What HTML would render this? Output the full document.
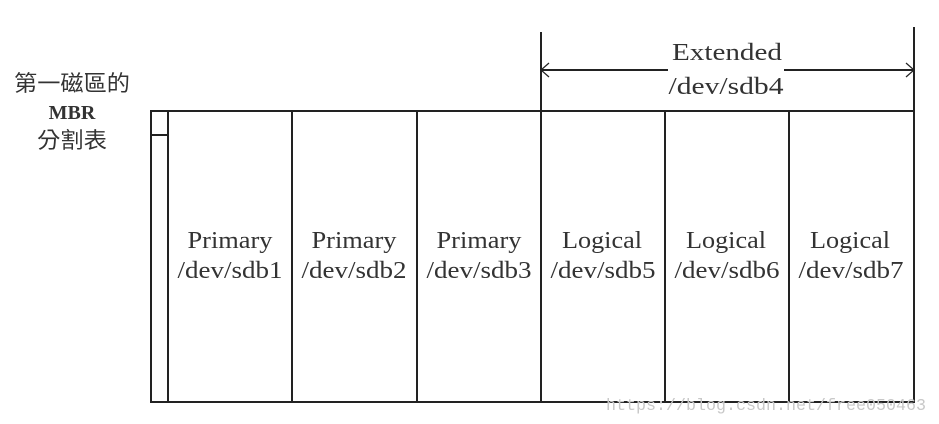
<!DOCTYPE html>
<html><head><style>
body{margin:0;width:939px;height:424px;background:#fff;overflow:hidden}
</style></head><body>
<svg width="939" height="424" xmlns="http://www.w3.org/2000/svg" style="position:absolute;left:0;top:0">
<g stroke="#222" stroke-width="2" fill="none">
<rect x="151" y="111" width="763" height="291"/>
<line x1="168" y1="111" x2="168" y2="402"/>
<line x1="151" y1="135" x2="168" y2="135"/>
<line x1="292" y1="111" x2="292" y2="402"/>
<line x1="417" y1="111" x2="417" y2="402"/>
<line x1="541" y1="32" x2="541" y2="402"/>
<line x1="665" y1="111" x2="665" y2="402"/>
<line x1="789" y1="111" x2="789" y2="402"/>
<line x1="914" y1="27" x2="914" y2="111"/>
<line x1="541" y1="70" x2="668" y2="70"/>
<line x1="784" y1="70" x2="914" y2="70"/>
<polyline points="549,63 541,70 549,77" stroke-width="1.2"/>
<polyline points="906,63 914,70 906,77" stroke-width="1.2"/>
</g>
<g font-family="Liberation Serif, serif" font-size="24" fill="#333" text-anchor="middle" lengthAdjust="spacingAndGlyphs">
<text x="727" y="60" textLength="110" lengthAdjust="spacingAndGlyphs">Extended</text>
<text x="726" y="94" textLength="115" lengthAdjust="spacingAndGlyphs">/dev/sdb4</text>
<text x="230" y="248" textLength="85" lengthAdjust="spacingAndGlyphs">Primary</text><text x="230" y="278" textLength="105" lengthAdjust="spacingAndGlyphs">/dev/sdb1</text>
<text x="354" y="248" textLength="85" lengthAdjust="spacingAndGlyphs">Primary</text><text x="354" y="278" textLength="105" lengthAdjust="spacingAndGlyphs">/dev/sdb2</text>
<text x="479" y="248" textLength="85" lengthAdjust="spacingAndGlyphs">Primary</text><text x="479" y="278" textLength="105" lengthAdjust="spacingAndGlyphs">/dev/sdb3</text>
<text x="602" y="248" textLength="80" lengthAdjust="spacingAndGlyphs">Logical</text><text x="603" y="278" textLength="105" lengthAdjust="spacingAndGlyphs">/dev/sdb5</text>
<text x="726" y="248" textLength="80" lengthAdjust="spacingAndGlyphs">Logical</text><text x="727" y="278" textLength="105" lengthAdjust="spacingAndGlyphs">/dev/sdb6</text>
<text x="850" y="248" textLength="80" lengthAdjust="spacingAndGlyphs">Logical</text><text x="851" y="278" textLength="105" lengthAdjust="spacingAndGlyphs">/dev/sdb7</text>
</g>
<g font-family="Liberation Serif, 'Noto Serif CJK SC', serif" font-size="22" fill="#333" text-anchor="middle">
<text x="72" y="91" font-family="'Noto Sans CJK TC', sans-serif" textLength="116" lengthAdjust="spacingAndGlyphs">第一磁區的</text>
<text x="72" y="119" font-weight="bold" font-size="20">MBR</text>
<text x="72" y="148" font-family="'Noto Sans CJK TC', sans-serif" textLength="70" lengthAdjust="spacingAndGlyphs">分割表</text>
</g>
<text x="606" y="410" font-family="Liberation Mono, monospace" font-size="16.5" fill="#c8c8c8" textLength="320" lengthAdjust="spacingAndGlyphs">https://blog.csdn.net/free050463</text>
</svg>
</body></html>
